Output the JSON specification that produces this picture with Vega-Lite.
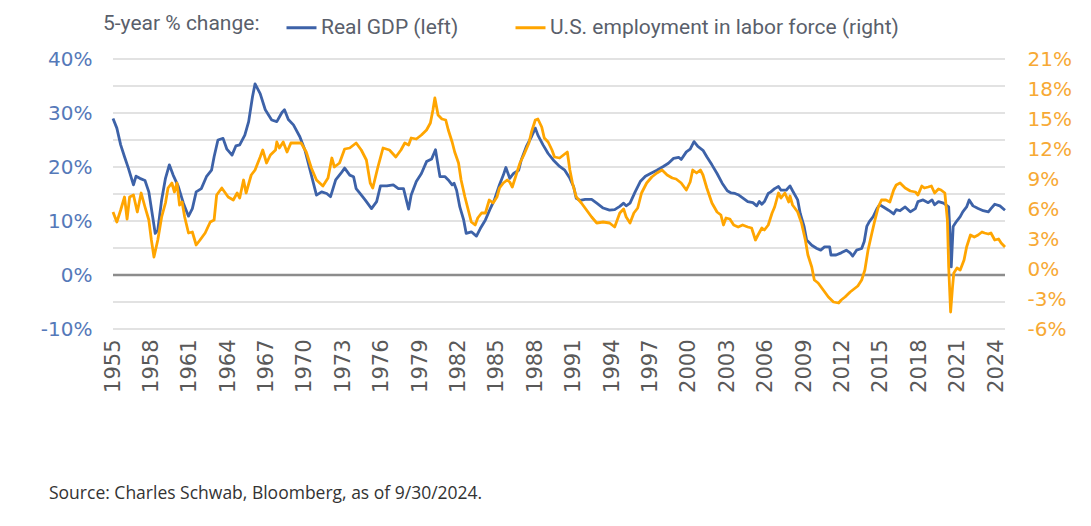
{
  "$schema": "https://vega.github.io/schema/vega-lite/v6.json",
  "width": 892,
  "height": 270,
  "autosize": {"type": "none"},
  "padding": {"left": 113, "top": 59, "right": 86, "bottom": 197},
  "background": "white",
  "config": {"view": {"stroke": null}, "font": "DejaVu Sans"},
  "title": {"text": "Source: Charles Schwab, Bloomberg, as of 9/30/2024.", "orient": "bottom", "anchor": "start", "frame": "group", "dx": -64, "offset": 93, "fontSize": 17.5, "font": "Open Sans", "fontWeight": "normal", "color": "#333333"},
  "datasets": {
    "grid": [{"g":-10},{"g":-5},{"g":5},{"g":10},{"g":15},{"g":20},{"g":25},{"g":30},{"g":35},{"g":40}],
    "zero": [{"g":0}],
    "gdp": [
      {"t":1955.0,"v":29.0},{"t":1955.3,"v":27.2},{"t":1955.6,"v":24.1},{"t":1955.9,"v":21.9},{"t":1956.2,"v":19.8},{"t":1956.6,"v":16.7},{"t":1956.8,"v":18.3},{"t":1957.1,"v":17.9},{"t":1957.5,"v":17.5},{"t":1957.8,"v":15.4},{"t":1958.1,"v":10.8},{"t":1958.3,"v":7.7},{"t":1958.5,"v":8.3},{"t":1958.8,"v":13.9},{"t":1959.1,"v":17.9},{"t":1959.4,"v":20.4},{"t":1959.7,"v":18.5},{"t":1960.1,"v":16.4},{"t":1960.5,"v":13.3},{"t":1960.9,"v":10.9},{"t":1961.2,"v":12.3},{"t":1961.5,"v":15.4},{"t":1961.9,"v":16.0},{"t":1962.3,"v":18.2},{"t":1962.7,"v":19.4},{"t":1962.9,"v":21.9},{"t":1963.2,"v":25.0},{"t":1963.6,"v":25.3},{"t":1963.9,"v":23.3},{"t":1964.3,"v":22.2},{"t":1964.6,"v":23.9},{"t":1964.9,"v":24.1},{"t":1965.3,"v":25.9},{"t":1965.6,"v":28.4},{"t":1965.9,"v":33.0},{"t":1966.1,"v":35.4},{"t":1966.5,"v":33.6},{"t":1966.9,"v":30.6},{"t":1967.4,"v":28.7},{"t":1967.8,"v":28.4},{"t":1968.2,"v":30.1},{"t":1968.4,"v":30.6},{"t":1968.7,"v":28.8},{"t":1969.1,"v":27.8},{"t":1969.6,"v":25.6},{"t":1970.0,"v":23.1},{"t":1970.4,"v":19.4},{"t":1970.9,"v":14.8},{"t":1971.3,"v":15.4},{"t":1971.7,"v":15.1},{"t":1972.0,"v":14.5},{"t":1972.4,"v":17.6},{"t":1972.8,"v":18.8},{"t":1973.1,"v":19.8},{"t":1973.5,"v":18.5},{"t":1973.8,"v":18.2},{"t":1974.0,"v":16.0},{"t":1974.3,"v":15.1},{"t":1974.7,"v":13.9},{"t":1975.2,"v":12.3},{"t":1975.6,"v":13.6},{"t":1975.9,"v":16.5},{"t":1976.4,"v":16.5},{"t":1976.9,"v":16.7},{"t":1977.3,"v":16.0},{"t":1977.7,"v":16.0},{"t":1978.1,"v":12.2},{"t":1978.3,"v":14.8},{"t":1978.7,"v":17.3},{"t":1979.1,"v":18.8},{"t":1979.5,"v":21.0},{"t":1979.9,"v":21.5},{"t":1980.2,"v":23.2},{"t":1980.35,"v":21.0},{"t":1980.55,"v":18.2},{"t":1980.95,"v":18.2},{"t":1981.2,"v":17.6},{"t":1981.5,"v":16.7},{"t":1981.65,"v":17.0},{"t":1981.85,"v":15.7},{"t":1982.1,"v":12.6},{"t":1982.4,"v":10.2},{"t":1982.6,"v":7.7},{"t":1983.0,"v":8.0},{"t":1983.4,"v":7.2},{"t":1983.7,"v":8.6},{"t":1984.1,"v":10.2},{"t":1984.5,"v":12.4},{"t":1984.8,"v":13.9},{"t":1985.2,"v":16.7},{"t":1985.5,"v":18.5},{"t":1985.7,"v":19.9},{"t":1986.0,"v":17.9},{"t":1986.3,"v":18.8},{"t":1986.7,"v":19.4},{"t":1986.9,"v":21.3},{"t":1987.3,"v":23.8},{"t":1987.7,"v":25.6},{"t":1988.0,"v":27.2},{"t":1988.2,"v":25.9},{"t":1988.6,"v":24.1},{"t":1989.0,"v":22.5},{"t":1989.4,"v":21.3},{"t":1989.9,"v":20.1},{"t":1990.3,"v":19.4},{"t":1990.7,"v":17.9},{"t":1991.0,"v":16.3},{"t":1991.2,"v":14.2},{"t":1991.5,"v":13.8},{"t":1991.9,"v":14.0},{"t":1992.4,"v":14.0},{"t":1992.8,"v":13.3},{"t":1993.3,"v":12.4},{"t":1993.8,"v":12.0},{"t":1994.2,"v":12.1},{"t":1994.6,"v":12.7},{"t":1994.9,"v":13.3},{"t":1995.1,"v":12.8},{"t":1995.4,"v":13.3},{"t":1995.8,"v":15.4},{"t":1996.2,"v":17.3},{"t":1996.6,"v":18.3},{"t":1997.0,"v":18.8},{"t":1997.5,"v":19.4},{"t":1998.0,"v":20.1},{"t":1998.4,"v":20.7},{"t":1998.8,"v":21.6},{"t":1999.2,"v":21.8},{"t":1999.4,"v":21.4},{"t":1999.8,"v":22.8},{"t":2000.1,"v":23.3},{"t":2000.4,"v":24.7},{"t":2000.7,"v":23.8},{"t":2001.1,"v":23.1},{"t":2001.4,"v":21.9},{"t":2001.8,"v":20.4},{"t":2002.2,"v":18.8},{"t":2002.6,"v":17.0},{"t":2003.0,"v":15.6},{"t":2003.3,"v":15.2},{"t":2003.6,"v":15.1},{"t":2003.9,"v":14.8},{"t":2004.2,"v":14.3},{"t":2004.6,"v":13.6},{"t":2005.0,"v":13.4},{"t":2005.3,"v":12.8},{"t":2005.5,"v":13.6},{"t":2005.7,"v":13.1},{"t":2005.9,"v":13.6},{"t":2006.2,"v":15.1},{"t":2006.4,"v":15.4},{"t":2006.7,"v":16.0},{"t":2007.0,"v":16.4},{"t":2007.2,"v":15.7},{"t":2007.6,"v":15.7},{"t":2007.9,"v":16.5},{"t":2008.1,"v":15.6},{"t":2008.5,"v":13.9},{"t":2008.7,"v":11.4},{"t":2009.0,"v":9.0},{"t":2009.2,"v":6.5},{"t":2009.6,"v":5.5},{"t":2010.0,"v":4.9},{"t":2010.3,"v":4.6},{"t":2010.6,"v":5.2},{"t":2011.0,"v":5.2},{"t":2011.1,"v":3.7},{"t":2011.5,"v":3.7},{"t":2011.9,"v":4.1},{"t":2012.3,"v":4.6},{"t":2012.6,"v":4.1},{"t":2012.8,"v":3.5},{"t":2013.1,"v":4.6},{"t":2013.5,"v":4.9},{"t":2013.7,"v":6.2},{"t":2013.9,"v":9.0},{"t":2014.1,"v":9.9},{"t":2014.4,"v":10.8},{"t":2014.7,"v":12.3},{"t":2014.9,"v":13.0},{"t":2015.2,"v":12.6},{"t":2015.6,"v":12.0},{"t":2016.0,"v":11.3},{"t":2016.2,"v":12.1},{"t":2016.5,"v":11.9},{"t":2016.9,"v":12.6},{"t":2017.3,"v":11.7},{"t":2017.7,"v":12.3},{"t":2017.9,"v":13.6},{"t":2018.3,"v":13.9},{"t":2018.7,"v":13.4},{"t":2019.0,"v":13.9},{"t":2019.2,"v":13.0},{"t":2019.5,"v":13.6},{"t":2019.9,"v":13.3},{"t":2020.3,"v":12.6},{"t":2020.4,"v":7.7},{"t":2020.5,"v":1.5},{"t":2020.65,"v":9.0},{"t":2020.9,"v":9.9},{"t":2021.2,"v":10.8},{"t":2021.4,"v":11.7},{"t":2021.7,"v":12.6},{"t":2021.9,"v":13.9},{"t":2022.2,"v":12.8},{"t":2022.6,"v":12.3},{"t":2023.0,"v":11.9},{"t":2023.4,"v":11.7},{"t":2023.6,"v":12.3},{"t":2023.9,"v":13.1},{"t":2024.3,"v":12.8},{"t":2024.7,"v":12.0}
    ],
    "emp": [
      {"t":1955.0,"v":5.7},{"t":1955.3,"v":4.7},{"t":1955.6,"v":5.9},{"t":1955.9,"v":7.2},{"t":1956.1,"v":5.0},{"t":1956.3,"v":7.2},{"t":1956.6,"v":7.4},{"t":1956.9,"v":5.7},{"t":1957.2,"v":7.6},{"t":1957.5,"v":6.2},{"t":1957.8,"v":4.9},{"t":1958.0,"v":2.9},{"t":1958.2,"v":1.2},{"t":1958.5,"v":2.9},{"t":1958.8,"v":5.2},{"t":1959.1,"v":6.6},{"t":1959.3,"v":8.1},{"t":1959.6,"v":8.6},{"t":1959.8,"v":7.7},{"t":1960.0,"v":8.6},{"t":1960.2,"v":6.4},{"t":1960.4,"v":6.7},{"t":1960.6,"v":5.2},{"t":1960.9,"v":3.6},{"t":1961.2,"v":3.7},{"t":1961.5,"v":2.4},{"t":1961.8,"v":2.9},{"t":1962.2,"v":3.6},{"t":1962.6,"v":4.7},{"t":1962.9,"v":4.9},{"t":1963.1,"v":7.4},{"t":1963.5,"v":8.1},{"t":1964.0,"v":7.2},{"t":1964.4,"v":6.9},{"t":1964.7,"v":7.6},{"t":1964.9,"v":7.1},{"t":1965.2,"v":8.9},{"t":1965.4,"v":7.6},{"t":1965.8,"v":9.4},{"t":1966.1,"v":9.9},{"t":1966.5,"v":11.2},{"t":1966.7,"v":11.9},{"t":1967.0,"v":10.6},{"t":1967.3,"v":11.4},{"t":1967.7,"v":11.9},{"t":1967.8,"v":12.7},{"t":1968.0,"v":12.1},{"t":1968.3,"v":12.7},{"t":1968.6,"v":11.7},{"t":1968.9,"v":12.6},{"t":1969.3,"v":12.6},{"t":1969.7,"v":12.6},{"t":1970.1,"v":11.7},{"t":1970.5,"v":10.1},{"t":1970.9,"v":8.9},{"t":1971.4,"v":8.3},{"t":1971.8,"v":9.1},{"t":1972.1,"v":11.1},{"t":1972.3,"v":10.2},{"t":1972.7,"v":10.6},{"t":1973.1,"v":12.0},{"t":1973.5,"v":12.1},{"t":1974.0,"v":12.6},{"t":1974.4,"v":11.9},{"t":1974.8,"v":10.9},{"t":1975.1,"v":8.6},{"t":1975.3,"v":8.1},{"t":1975.7,"v":10.2},{"t":1976.1,"v":12.1},{"t":1976.6,"v":11.9},{"t":1977.1,"v":11.2},{"t":1977.5,"v":11.9},{"t":1977.8,"v":12.6},{"t":1978.1,"v":12.4},{"t":1978.3,"v":13.1},{"t":1978.7,"v":13.0},{"t":1979.1,"v":13.4},{"t":1979.5,"v":13.9},{"t":1979.8,"v":14.6},{"t":1980.0,"v":15.9},{"t":1980.15,"v":17.1},{"t":1980.4,"v":15.4},{"t":1980.7,"v":15.0},{"t":1981.0,"v":14.9},{"t":1981.2,"v":13.9},{"t":1981.5,"v":12.7},{"t":1981.7,"v":11.7},{"t":1982.0,"v":10.6},{"t":1982.2,"v":8.9},{"t":1982.5,"v":7.2},{"t":1982.8,"v":5.7},{"t":1983.0,"v":4.7},{"t":1983.3,"v":4.4},{"t":1983.5,"v":5.1},{"t":1983.8,"v":5.6},{"t":1984.1,"v":5.6},{"t":1984.4,"v":6.9},{"t":1984.7,"v":6.6},{"t":1985.0,"v":7.2},{"t":1985.2,"v":8.1},{"t":1985.5,"v":8.6},{"t":1985.8,"v":8.9},{"t":1986.0,"v":8.7},{"t":1986.2,"v":8.2},{"t":1986.5,"v":9.4},{"t":1986.8,"v":10.6},{"t":1987.1,"v":11.4},{"t":1987.5,"v":12.6},{"t":1987.7,"v":13.7},{"t":1988.0,"v":14.9},{"t":1988.2,"v":15.0},{"t":1988.5,"v":14.2},{"t":1988.7,"v":13.1},{"t":1989.0,"v":12.7},{"t":1989.3,"v":11.9},{"t":1989.5,"v":11.2},{"t":1989.9,"v":11.1},{"t":1990.2,"v":11.4},{"t":1990.5,"v":11.7},{"t":1990.7,"v":9.9},{"t":1990.9,"v":8.6},{"t":1991.2,"v":7.2},{"t":1991.6,"v":6.6},{"t":1992.0,"v":5.9},{"t":1992.4,"v":5.2},{"t":1992.8,"v":4.6},{"t":1993.3,"v":4.7},{"t":1993.8,"v":4.6},{"t":1994.2,"v":4.2},{"t":1994.6,"v":5.6},{"t":1994.9,"v":6.0},{"t":1995.1,"v":5.2},{"t":1995.4,"v":4.6},{"t":1995.7,"v":5.6},{"t":1996.0,"v":6.1},{"t":1996.3,"v":7.6},{"t":1996.7,"v":8.6},{"t":1997.1,"v":9.2},{"t":1997.5,"v":9.6},{"t":1997.9,"v":9.9},{"t":1998.3,"v":9.4},{"t":1998.7,"v":9.1},{"t":1999.0,"v":9.0},{"t":1999.4,"v":8.6},{"t":1999.8,"v":7.9},{"t":2000.1,"v":8.7},{"t":2000.3,"v":9.9},{"t":2000.6,"v":9.6},{"t":2000.9,"v":9.9},{"t":2001.1,"v":9.4},{"t":2001.4,"v":8.1},{"t":2001.8,"v":6.6},{"t":2002.2,"v":5.7},{"t":2002.5,"v":5.4},{"t":2002.7,"v":4.4},{"t":2002.9,"v":5.1},{"t":2003.2,"v":5.0},{"t":2003.5,"v":4.4},{"t":2003.85,"v":4.2},{"t":2004.2,"v":4.4},{"t":2004.6,"v":4.2},{"t":2004.9,"v":4.1},{"t":2005.2,"v":2.9},{"t":2005.4,"v":3.4},{"t":2005.7,"v":4.1},{"t":2005.9,"v":3.9},{"t":2006.2,"v":4.4},{"t":2006.5,"v":5.6},{"t":2006.7,"v":6.2},{"t":2007.0,"v":7.6},{"t":2007.2,"v":7.1},{"t":2007.5,"v":7.6},{"t":2007.8,"v":6.7},{"t":2007.9,"v":7.3},{"t":2008.1,"v":6.4},{"t":2008.5,"v":5.7},{"t":2008.8,"v":4.6},{"t":2009.1,"v":2.9},{"t":2009.3,"v":1.4},{"t":2009.6,"v":0.2},{"t":2009.8,"v":-1.1},{"t":2010.1,"v":-1.4},{"t":2010.5,"v":-2.1},{"t":2010.9,"v":-2.8},{"t":2011.3,"v":-3.3},{"t":2011.7,"v":-3.4},{"t":2011.9,"v":-3.1},{"t":2012.2,"v":-2.8},{"t":2012.6,"v":-2.3},{"t":2013.0,"v":-1.9},{"t":2013.2,"v":-1.7},{"t":2013.5,"v":-1.1},{"t":2013.75,"v":-0.1},{"t":2014.0,"v":1.9},{"t":2014.3,"v":3.6},{"t":2014.5,"v":4.7},{"t":2014.8,"v":6.2},{"t":2015.05,"v":6.9},{"t":2015.4,"v":6.9},{"t":2015.7,"v":6.7},{"t":2016.0,"v":7.9},{"t":2016.2,"v":8.4},{"t":2016.5,"v":8.6},{"t":2016.9,"v":8.1},{"t":2017.3,"v":7.8},{"t":2017.7,"v":7.7},{"t":2017.9,"v":7.4},{"t":2018.2,"v":8.3},{"t":2018.4,"v":8.1},{"t":2018.7,"v":8.2},{"t":2018.95,"v":8.3},{"t":2019.2,"v":7.6},{"t":2019.5,"v":8.0},{"t":2019.7,"v":7.9},{"t":2020.0,"v":7.6},{"t":2020.2,"v":4.9},{"t":2020.3,"v":0.2},{"t":2020.45,"v":-4.3},{"t":2020.6,"v":-1.8},{"t":2020.7,"v":-0.4},{"t":2020.95,"v":0.1},{"t":2021.2,"v":-0.1},{"t":2021.5,"v":0.9},{"t":2021.7,"v":2.2},{"t":2022.0,"v":3.4},{"t":2022.3,"v":3.2},{"t":2022.6,"v":3.4},{"t":2022.9,"v":3.7},{"t":2023.1,"v":3.6},{"t":2023.4,"v":3.5},{"t":2023.6,"v":3.6},{"t":2023.9,"v":2.9},{"t":2024.2,"v":3.0},{"t":2024.4,"v":2.6},{"t":2024.7,"v":2.2}
    ]
  },
  "encoding": {
    "x": {
      "field": "t", "type": "quantitative",
      "scale": {"domain": [1955, 2024.7], "nice": false, "zero": false},
      "axis": {"title": null, "values": [1955,1958,1961,1964,1967,1970,1973,1976,1979,1982,1985,1988,1991,1994,1997,2000,2003,2006,2009,2012,2015,2018,2021,2024], "format": "d", "labelAngle": -90, "labelFontSize": 21, "labelFont": "DejaVu Sans", "labelColor": "#595959", "labelPadding": 10, "ticks": false, "domain": false, "grid": false, "labelFlush": false, "labelOverlap": false}
    }
  },
  "layer": [
    {
      "layer": [
        {
          "data": {"name": "grid"},
          "mark": {"type": "rule", "color": "#d9d9d9", "strokeWidth": 1.5},
          "encoding": {"x": null, "y": {"field": "g", "type": "quantitative"}}
        },
        {
          "data": {"name": "zero"},
          "mark": {"type": "rule", "color": "#8c8c8c", "strokeWidth": 2.5},
          "encoding": {"x": null, "y": {"field": "g", "type": "quantitative"}}
        },
        {
          "data": {"name": "gdp"},
          "mark": {"type": "line", "strokeWidth": 2.8, "strokeJoin": "round"},
          "encoding": {
            "y": {
              "field": "v", "type": "quantitative",
              "scale": {"domain": [-10, 40], "nice": false, "zero": false},
              "axis": {"title": null, "orient": "left", "values": [-10,-5,0,5,10,15,20,25,30,35,40], "labelExpr": "datum.value + '%'", "labelFontSize": 20, "labelFont": "DejaVu Sans", "labelColor": "#5579b9", "labelPadding": 21, "labelOverlap": false, "ticks": false, "domain": false, "grid": false}
            },
            "color": {
              "datum": "Real GDP (left)", "type": "nominal",
              "scale": {"domain": ["Real GDP (left)", "U.S. employment in labor force (right)"], "range": ["#3d62a8", "#ffa500"]},
              "legend": {"orient": "none", "legendX": -10, "legendY": -48, "direction": "horizontal", "title": "5-year % change:", "titleOrient": "left", "titleAnchor": "middle", "titleBaseline": "middle", "titleFontSize": 21, "titleFont": "Roboto", "titleFontWeight": "normal", "titleColor": "#5a5f6b", "titlePadding": 25, "labelFont": "Roboto", "labelFontSize": 21, "labelColor": "#5a5f6b", "symbolType": "stroke", "symbolStrokeWidth": 3, "symbolSize": 900, "labelOffset": 3, "columnPadding": 50, "labelLimit": 600}
            }
          }
        }
      ]
    },
    {
      "data": {"name": "emp"},
      "mark": {"type": "line", "strokeWidth": 2.8, "strokeJoin": "round"},
      "encoding": {
        "y": {
          "field": "v", "type": "quantitative",
          "scale": {"domain": [-6, 21], "nice": false, "zero": false},
          "axis": {"title": null, "orient": "right", "values": [-6,-3,0,3,6,9,12,15,18,21], "labelExpr": "datum.value + '%'", "labelFontSize": 20, "labelFont": "DejaVu Sans", "labelColor": "#f7a934", "labelPadding": 22, "labelOverlap": false, "ticks": false, "domain": false, "grid": false}
        },
        "color": {
          "datum": "U.S. employment in labor force (right)", "type": "nominal",
          "scale": {"domain": ["Real GDP (left)", "U.S. employment in labor force (right)"], "range": ["#3d62a8", "#ffa500"]}
        }
      }
    }
  ],
  "resolve": {"scale": {"y": "independent"}}
}
